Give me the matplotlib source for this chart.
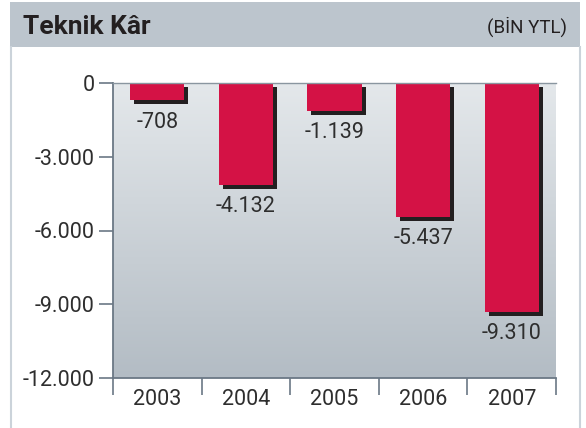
import matplotlib
matplotlib.use("Agg")
import matplotlib.pyplot as plt
import matplotlib.transforms as mtransforms
from matplotlib.patches import Rectangle
from matplotlib.lines import Line2D
import numpy as np

years = ["2003", "2004", "2005", "2006", "2007"]
values = [-708, -4132, -1139, -5437, -9310]
yticks = [0, -3000, -6000, -9000, -12000]
title = "Teknik Kâr"
unit = "(BİN YTL)"

def fmt(v):
    s = f"{abs(v):,}".replace(",", ".")
    return ("-" if v < 0 else "") + s

plt.rcParams['font.family'] = ['Roboto', 'DejaVu Sans']

W, H = 586, 428
fig = plt.figure(figsize=(W / 100, H / 100), dpi=100)
fig.patch.set_facecolor("white")

def fx(px):
    return px / W
def fy(py):
    return 1 - py / H

fig.patches.append(Rectangle((fx(10), fy(47)), fx(580) - fx(10), fy(2) - fy(47),
                             transform=fig.transFigure, facecolor="#bcc5cd",
                             edgecolor="none", zorder=0))
for xp in (10.5, 580):
    fig.lines.append(Line2D([fx(xp), fx(xp)], [fy(47), 0], transform=fig.transFigure,
                            color="#cbd3da", lw=1.5))
fig.text(fx(23), fy(27), title, fontsize=19, fontweight="bold", color="#231f20",
         ha="left", va="center")
fig.text(fx(567), fy(27), unit, fontsize=13.5, color="#231f20",
         ha="right", va="center")

ax = fig.add_axes([fx(113), fy(378), fx(556) - fx(113), fy(83) - fy(378)])
x = np.arange(len(years))
ax.set_xlim(-0.5, len(years) - 0.5)
ax.set_ylim(-12000, 0)

grad = np.linspace(0, 1, 256).reshape(-1, 1)
top = np.array([0xe4, 0xe8, 0xeb]) / 255
bot = np.array([0xb3, 0xbc, 0xc4]) / 255
img = top + (bot - top) * grad[:, :, None] * np.ones((1, 1, 3))
ax.imshow(img, extent=[-0.5, len(years) - 0.5, -12000, 0], aspect="auto",
          origin="upper", zorder=0)

bw = 0.61
shadow_tr = ax.transData + mtransforms.ScaledTranslation(4 / 100, -4 / 100, fig.dpi_scale_trans)
ax.bar(x, values, width=bw, color="#231f20", zorder=2, transform=shadow_tr)
ax.bar(x, values, width=bw, color="#d41245", zorder=3)

fs = 15.5
tc = "#2e2e2e"
for xi, v in zip(x, values):
    ax.annotate(fmt(v), (xi, v), xytext=(0, -8), textcoords="offset points",
                ha="center", va="top", fontsize=fs, color=tc, zorder=4)

ax.set_yticks(yticks)
ax.set_yticklabels([fmt(t) for t in yticks], fontsize=fs, color=tc)
ax.set_xticks(x)
ax.set_xticklabels(years, fontsize=fs, color=tc)
ax.set_xticks(np.arange(-0.5, len(years)), minor=True)
ax.tick_params(axis="x", which="major", length=0, pad=8)
ax.tick_params(axis="x", which="minor", length=12, width=1.2, color="#6b7885", direction="out")
ax.tick_params(axis="y", length=10, width=1.2, color="#6b7885", pad=3)

for s in ("left", "bottom"):
    ax.spines[s].set_color("#6b7885")
    ax.spines[s].set_linewidth(1.3)
ax.spines["top"].set_color("#8a96a0")
ax.spines["top"].set_linewidth(1.0)
ax.spines["top"].set_zorder(5)
ax.spines["right"].set_visible(False)

fig.savefig("out.png", dpi=100, facecolor="white")
